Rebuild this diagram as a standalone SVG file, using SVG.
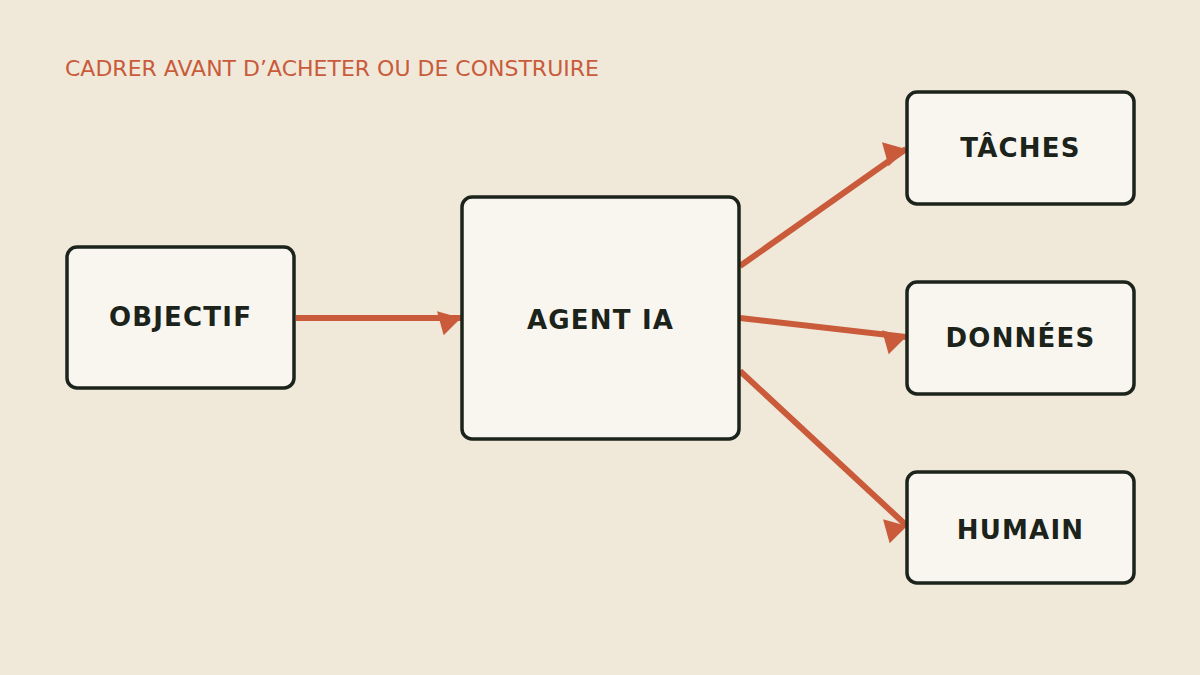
<svg xmlns="http://www.w3.org/2000/svg" width="1200" height="675" viewBox="0 0 1200 675">
<style>
.node rect{fill:#f9f6ef;stroke:#1b231b;stroke-width:3.5}
.node text{font-family:"DejaVu Sans",sans-serif;font-weight:bold;font-size:26px;fill:#1b231b;text-anchor:middle;letter-spacing:1.2px}
.title{font-family:"DejaVu Sans",sans-serif;font-size:22px;fill:#c95b3b}
#connectors line{stroke:#c95b3b;stroke-width:6;marker-end:url(#ah)}
</style>
<defs>
<marker id="ah" markerUnits="userSpaceOnUse" orient="0" refX="0" refY="0" markerWidth="40" markerHeight="40" viewBox="-25 -10 30 30" overflow="visible">
<path d="M0,0 L-18,-5 L-13,13 Z" fill="#c95b3b"/>
</marker>
</defs>
<rect width="1200" height="675" fill="#f0e9da"/>
<text class="title" x="65" y="76">CADRER AVANT D’ACHETER OU DE CONSTRUIRE</text>
<g id="connectors">
<line x1="296" y1="318" x2="461" y2="318"/>
<line x1="740" y1="266" x2="906" y2="149"/>
<line x1="740" y1="318" x2="906" y2="337"/>
<line x1="740" y1="371" x2="907" y2="526"/>
</g>
<g id="objectif" class="node"><rect x="67" y="247" width="227" height="141" rx="10"/><text x="180.5" y="326">OBJECTIF</text></g>
<g id="agent" class="node"><rect x="462" y="197" width="277" height="242" rx="10"/><text x="600.5" y="329">AGENT IA</text></g>
<g id="taches" class="node"><rect x="907" y="92" width="227" height="112" rx="10"/><text x="1020.5" y="157">TÂCHES</text></g>
<g id="donnees" class="node"><rect x="907" y="282" width="227" height="112" rx="10"/><text x="1020.5" y="347">DONNÉES</text></g>
<g id="humain" class="node"><rect x="907" y="472" width="227" height="111" rx="10"/><text x="1020.5" y="539">HUMAIN</text></g>
</svg>
